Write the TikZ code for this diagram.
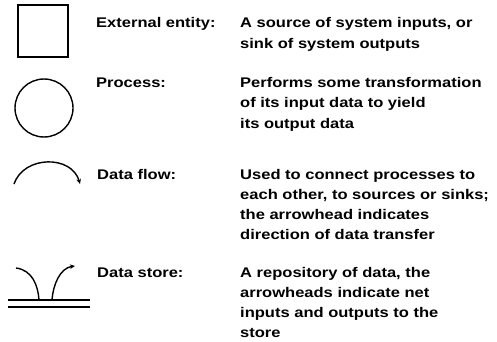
\documentclass[tikz,border=0pt]{standalone}
\usepackage{fontspec}
\setmainfont{Liberation Sans}[FakeStretch=1.18]
\usetikzlibrary{arrows.meta}
\begin{document}
\begin{tikzpicture}[x=1pt,y=-1pt,
  sym/.style={line width=1.4pt},
  lbl/.style={anchor=base west,inner sep=0pt,font=\bfseries\fontsize{14}{20.3}\selectfont},
  desc/.style={anchor=base west,inner sep=0pt,align=left,font=\bfseries\fontsize{14}{20.3}\selectfont},
  tip/.style={-{Stealth[length=5pt,width=4.5pt]}}]
\useasboundingbox (0,0) rectangle (497,342);
% external entity
\node[sym,draw,minimum width=50pt,minimum height=52pt,inner sep=0pt] (ent) at (43,31) {};
\node[lbl] (entl) at (96,28) {External entity:};
\node[desc] (entd) at (240,48.3) {A source of system inputs, or\\sink of system outputs};
% process
\node[sym,draw,circle,minimum size=58pt,inner sep=0pt] (proc) at (44,108) {};
\node[lbl] (procl) at (96,87.5) {Process:};
\node[desc] (procd) at (240,128.1) {Performs some transformation\\of its input data to yield\\its output data};
% data flow
\coordinate (f1) at (14,184);
\coordinate (f2) at (80,184);
\draw[sym,tip] (f1) .. controls (24,155) and (72,155) .. (f2);
\node[lbl] (flowl) at (97,179) {Data flow:};
\node[desc] (flowd) at (240,239.9) {Used to connect processes to\\each other, to sources or sinks;\\the arrowhead indicates\\direction of data transfer};
% data store
\coordinate (s1) at (8,300);
\coordinate (s2) at (90,300);
\coordinate (s3) at (8,307);
\coordinate (s4) at (90,307);
\draw[line width=1.2pt] (s1) -- (s2);
\draw[line width=1.2pt] (s3) -- (s4);
\coordinate (a1) at (16,268);
\coordinate (a2) at (39,300);
\coordinate (b1) at (52,300);
\coordinate (b2) at (75,266);
\draw[sym] (a1) .. controls (32,270) and (38,285) .. (a2);
\draw[sym,tip] (b1) .. controls (53,285) and (60,268) .. (b2);
\node[lbl] (storel) at (97,277) {Data store:};
\node[desc] (stored) at (240,337.9) {A repository of data, the\\arrowheads indicate net\\inputs and outputs to the\\store};
\end{tikzpicture}
\end{document}
